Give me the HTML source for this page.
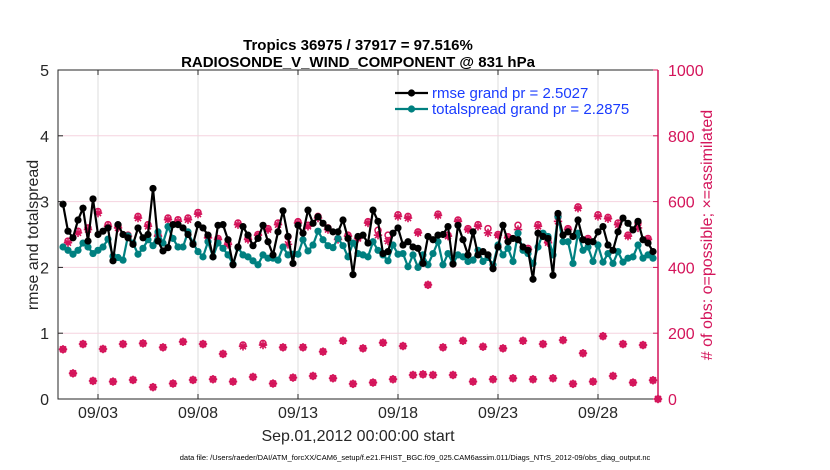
<!DOCTYPE html>
<html><head><meta charset="utf-8">
<style>
body{margin:0;background:#fff;width:830px;height:470px;overflow:hidden}
svg{display:block;font-family:"Liberation Sans",Arial,sans-serif}
</style></head><body>
<svg id="chart" width="830" height="470" viewBox="0 0 830 470"></svg>
<script>
const rmse=[2.96,2.55,2.45,2.72,2.9,2.4,3.04,2.5,2.55,2.6,2.1,2.65,2.5,2.45,2.35,2.6,2.45,2.5,3.2,2.4,2.25,2.3,2.65,2.65,2.6,2.5,2.35,2.65,2.6,2.49,
2.16,2.64,2.65,2.42,2.04,2.31,2.62,2.49,2.33,2.44,2.64,2.39,2.19,2.54,2.86,2.47,2.06,2.64,2.52,2.87,2.67,2.77,2.67,2.60,2.54,2.54,2.72,2.44,1.89,2.47,
2.49,2.37,2.87,2.70,2.21,2.24,2.52,2.60,2.34,2.39,2.31,2.29,2.06,2.47,2.42,2.49,2.50,2.62,2.05,2.64,2.42,2.19,2.54,2.19,2.24,2.19,1.98,2.31,2.64,2.39,
2.44,2.42,2.31,2.26,1.82,2.52,2.47,2.44,1.88,2.82,2.49,2.54,2.47,2.72,2.42,2.39,2.39,2.54,2.62,2.34,2.26,2.54,2.75,2.67,2.57,2.70,2.42,2.37,2.24,null];
const spread=[2.31,2.26,2.20,2.26,2.37,2.31,2.21,2.26,2.31,2.43,2.17,2.15,2.11,2.48,2.37,2.20,2.29,2.42,2.33,2.54,2.37,2.62,2.44,2.31,2.31,2.54,2.37,2.24,2.16,2.39,
2.16,2.37,2.29,2.19,2.05,2.30,2.19,2.16,2.10,2.04,2.19,2.14,2.14,2.11,2.31,2.19,2.20,2.20,2.42,2.25,2.34,2.55,2.42,2.33,2.30,2.44,2.33,2.16,2.37,2.21,
2.19,2.16,2.39,2.26,2.19,2.10,2.34,2.20,2.21,2.01,2.19,2.00,2.19,2.04,2.21,2.39,2.04,2.21,2.06,2.19,2.16,2.09,2.11,2.26,2.09,2.15,2.04,2.34,2.19,2.29,
2.09,2.52,2.26,2.21,2.06,2.31,2.52,2.47,2.19,2.77,2.39,2.39,2.06,2.52,2.26,2.31,2.09,2.34,2.08,2.21,2.06,2.24,2.08,2.14,2.16,2.34,2.14,2.19,2.14,null];
const possible=[151,480,78,510,167,520,55,570,152,530,53,525,167,498,58,555,169,530,36,498,157,550,47,545,174,550,58,567,167,493,
60,488,137,473,53,535,164,488,67,500,169,518,47,535,157,493,65,539,157,528,70,555,144,520,63,488,177,498,46,490,
154,539,50,513,171,498,60,560,161,555,73,508,75,347,73,562,157,498,73,544,177,518,53,530,159,518,60,500,154,493,
63,528,177,458,60,530,167,478,63,555,179,518,46,584,139,488,53,560,191,552,70,535,167,498,50,535,164,488,57,0];
const assimilated=[151,475,78,505,167,515,55,565,152,525,53,520,167,495,58,550,169,525,36,495,157,545,47,540,174,545,58,562,167,490,
60,485,137,470,53,530,160,485,67,498,164,515,47,530,157,470,65,535,157,525,70,550,144,515,63,485,177,495,46,488,
154,535,50,498,171,480,60,555,161,550,73,505,75,347,73,558,157,495,73,540,177,515,53,525,159,505,60,498,154,490,
63,515,177,455,60,525,167,475,63,540,179,515,46,580,139,485,53,555,191,548,70,530,167,495,50,520,164,485,57,0];
const yTicks=[0,1,2,3,4,5];
const y2Ticks=[0,200,400,600,800,1000];
const xTickDays=[2,7,12,17,22,27];
const xTickLabels=["09/03","09/08","09/13","09/18","09/23","09/28"];

const NS="http://www.w3.org/2000/svg";
const svg=document.getElementById('chart');
const X0=58,X1=658,Y0=399,Y1=70;
const xs=d=>X0+(d/30)*(X1-X0);
const ys=v=>Y0-(v/5)*(Y0-Y1);
const ys2=c=>Y0-(c/1000)*(Y0-Y1);
const PINK="#d4145a",TEAL="#008080";
function mk(tag,at,parent){const e=document.createElementNS(NS,tag);for(const k in at)e.setAttribute(k,at[k]);(parent||svg).appendChild(e);return e;}
function txt(s,at,parent){const e=mk('text',at,parent);e.textContent=s;return e;}

const grid=mk('g',{});


xTickDays.forEach(d=>{const l=mk('line',{x1:xs(d),x2:xs(d),y1:Y1,y2:Y0,stroke:'#dcdcdc','stroke-width':1},grid);

});
y2Ticks.slice(1,-1).forEach(c=>{const l=mk('line',{x1:X0,x2:X1,y1:ys2(c),y2:ys2(c),stroke:'#f5d3df','stroke-width':1},grid);

});

const obsG=mk('g',{});


possible.forEach((c,i)=>{const d=(i+1)/4;
  const m=mk('circle',{cx:xs(d),cy:ys2(c),r:3,fill:'none',stroke:PINK,'stroke-width':1.5},obsG);
  
  });
assimilated.forEach((c,i)=>{const d=(i+1)/4;const x=xs(d),y=ys2(c),r=4.2;
  const g=mk('g',{stroke:PINK,'stroke-width':1.6},obsG);
  
  
  mk('line',{x1:x-r,x2:x+r,y1:y,y2:y},g);mk('line',{x1:x,x2:x,y1:y-r,y2:y+r},g);
  mk('line',{x1:x-3,x2:x+3,y1:y-3,y2:y+3},g);mk('line',{x1:x-3,x2:x+3,y1:y+3,y2:y-3},g);});

function series(vals,color,name){
  const g=mk('g',{});
  
  
  let pts=[];vals.forEach((v,i)=>{if(v!=null)pts.push(xs((i+1)/4)+','+ys(v));});
  mk('polyline',{points:pts.join(' '),fill:'none',stroke:color,'stroke-width':2.2},g);
  vals.forEach((v,i)=>{if(v==null)return;const c=mk('circle',{cx:xs((i+1)/4),cy:ys(v),r:3.6,fill:color},g);
    
    });
}
series(spread,TEAL,'totalspread-series');
series(rmse,'#000','rmse-series');

const ax=mk('g',{});


mk('path',{d:`M${X1},${Y1}H${X0}V${Y0}H${X1}`,fill:'none',stroke:'#262626','stroke-width':1},ax);
mk('line',{x1:X1,x2:X1,y1:Y1,y2:Y0,stroke:PINK,'stroke-width':1.5},ax);
yTicks.forEach(v=>{mk('line',{x1:X0,x2:X0+5,y1:ys(v),y2:ys(v),stroke:'#262626'},ax);
  const t=txt(String(v),{x:X0-9,y:ys(v)+6,'text-anchor':'end','font-size':16,fill:'#262626'},ax);
  
  });
y2Ticks.forEach(c=>{mk('line',{x1:X1-5,x2:X1,y1:ys2(c),y2:ys2(c),stroke:PINK},ax);
  const t=txt(String(c),{x:X1+10,y:ys2(c)+6,'font-size':16,fill:PINK},ax);
  
  });
xTickDays.forEach((d,i)=>{mk('line',{x1:xs(d),x2:xs(d),y1:Y0,y2:Y0-5,stroke:'#262626'},ax);
  mk('line',{x1:xs(d),x2:xs(d),y1:Y1,y2:Y1+5,stroke:'#262626'},ax);
  const t=txt(xTickLabels[i],{x:xs(d),y:Y0+19,'text-anchor':'middle','font-size':16,fill:'#262626'},ax);
  
  });
</script>
<script>
(function(){
const svg=document.getElementById('chart');
const NS="http://www.w3.org/2000/svg";
function t(s,at,name){const e=document.createElementNS(NS,'text');for(const k in at)e.setAttribute(k,at[k]);e.textContent=s;


svg.appendChild(e);return e;}
t("Tropics 36975 / 37917 = 97.516%",{x:358,y:50,'text-anchor':'middle','font-size':15,'font-weight':'bold',fill:'#000'},'chart-title');
t("RADIOSONDE_V_WIND_COMPONENT @ 831 hPa",{x:358,y:67,'text-anchor':'middle','font-size':15,'font-weight':'bold',fill:'#000'},'chart-subtitle');
t("rmse and totalspread",{x:0,y:0,transform:'translate(38,235) rotate(-90)','text-anchor':'middle','font-size':16,fill:'#262626'},'y-axis-title');
t("# of obs: o=possible; \u00d7=assimilated",{x:0,y:0,transform:'translate(712,235) rotate(-90)','text-anchor':'middle','font-size':16,fill:'#d4145a'},'y2-axis-title');
t("Sep.01,2012 00:00:00 start",{x:358,y:441,'text-anchor':'middle','font-size':16,fill:'#262626'},'x-axis-title');
t("data file: /Users/raeder/DAI/ATM_forcXX/CAM6_setup/f.e21.FHIST_BGC.f09_025.CAM6assim.011/Diags_NTrS_2012-09/obs_diag_output.nc",{x:415,y:460,'text-anchor':'middle','font-size':7.5,fill:'#000'},'data-file-note');
const lg=document.createElementNS(NS,'g');


svg.appendChild(lg);
[["#000","rmse grand pr = 2.5027",93],["#008080","totalspread grand pr = 2.2875",109]].forEach(([c,s,y])=>{
  const l=document.createElementNS(NS,'line');
  [['x1',395],['x2',428],['y1',y],['y2',y],['stroke',c],['stroke-width',2.2]].forEach(([k,v])=>l.setAttribute(k,v));lg.appendChild(l);
  const m=document.createElementNS(NS,'circle');
  [['cx',411.5],['cy',y],['r',3.6],['fill',c]].forEach(([k,v])=>m.setAttribute(k,v));lg.appendChild(m);
  const tx=document.createElementNS(NS,'text');
  [['x',432],['y',y+5],['font-size',15],['fill','#1a3cff']].forEach(([k,v])=>tx.setAttribute(k,v));tx.textContent=s;
  
  
  lg.appendChild(tx);
});
})();
</script>
</body></html>
